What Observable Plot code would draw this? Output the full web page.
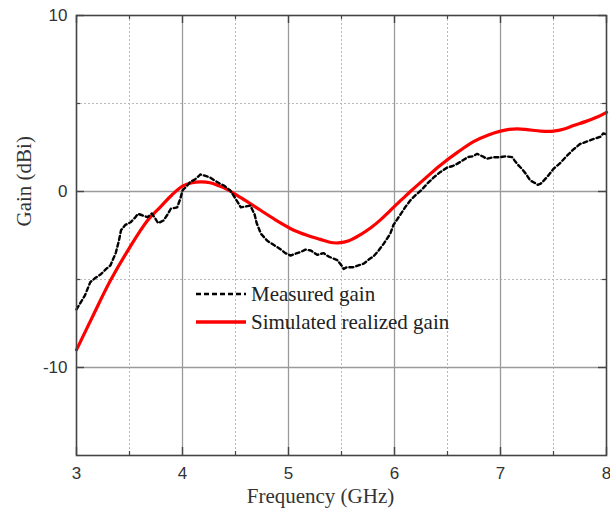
<!DOCTYPE html>
<html>
<head>
<meta charset="utf-8">
<script src="https://cdn.jsdelivr.net/npm/d3@7"></script>
<script src="https://cdn.jsdelivr.net/npm/@observablehq/plot@0.6"></script>
<style>
  html, body { margin: 0; padding: 0; background: #fff; }
  #wrap { position: relative; width: 610px; height: 519px; }
  .leg { position: absolute; left: 195px; font-family: "Liberation Serif", serif; font-size: 21px; color: #222; display: flex; align-items: center; white-space: nowrap; }
  .leg svg { margin-right: 4px; }
</style>
</head>
<body>
<div id="wrap"></div>
<script>
// ---- data ----
const simFreq = [3.0, 3.16, 3.32, 3.5, 3.67, 3.79, 3.9, 4.0, 4.08, 4.17, 4.26, 4.34, 4.42, 4.55, 4.74, 4.9, 5.05, 5.18, 5.3, 5.4, 5.47, 5.57, 5.68, 5.78, 5.87, 5.94, 5.99, 6.07, 6.15, 6.3, 6.43, 6.6, 6.75, 6.88, 7.0, 7.08, 7.16, 7.25, 7.38, 7.5, 7.6, 7.69, 7.8, 7.9, 8.0];
const simGain = [-9.0, -7.0, -5.06, -3.2, -1.65, -0.89, -0.2, 0.3, 0.48, 0.55, 0.5, 0.33, 0.12, -0.35, -1.08, -1.7, -2.2, -2.5, -2.72, -2.9, -2.92, -2.8, -2.45, -2.05, -1.6, -1.2, -0.9, -0.45, 0.0, 0.8, 1.48, 2.25, 2.85, 3.2, 3.43, 3.53, 3.56, 3.52, 3.43, 3.43, 3.55, 3.75, 3.97, 4.2, 4.5];

const measFreq = [3.00, 3.04, 3.08, 3.13, 3.18, 3.23, 3.28, 3.32, 3.37, 3.40, 3.42, 3.46, 3.51, 3.55, 3.58, 3.62, 3.67, 3.71, 3.74, 3.77, 3.82, 3.86, 3.89, 3.95, 3.98, 4.00, 4.04, 4.07, 4.12, 4.17, 4.21, 4.26, 4.31, 4.35, 4.39, 4.45, 4.50, 4.55, 4.60, 4.64, 4.68, 4.70, 4.74, 4.80, 4.87, 4.93, 4.97, 5.02, 5.06, 5.11, 5.16, 5.21, 5.27, 5.33, 5.38, 5.42, 5.46, 5.50, 5.52, 5.55, 5.61, 5.66, 5.71, 5.76, 5.80, 5.85, 5.90, 5.96, 5.99, 6.06, 6.10, 6.15, 6.20, 6.25, 6.31, 6.37, 6.43, 6.50, 6.55, 6.59, 6.64, 6.69, 6.74, 6.78, 6.83, 6.87, 6.93, 7.00, 7.05, 7.11, 7.14, 7.17, 7.20, 7.24, 7.28, 7.32, 7.35, 7.38, 7.41, 7.45, 7.50, 7.56, 7.63, 7.69, 7.75, 7.82, 7.88, 7.94, 7.97, 8.00];
const measGain = [-6.7, -6.3, -5.9, -5.15, -4.9, -4.7, -4.4, -4.2, -3.5, -2.8, -2.2, -1.9, -1.75, -1.5, -1.27, -1.35, -1.46, -1.25, -1.5, -1.8, -1.65, -1.3, -0.98, -0.9, -0.4, 0.06, 0.3, 0.53, 0.7, 0.97, 0.9, 0.8, 0.6, 0.45, 0.34, 0.06, -0.4, -0.9, -0.85, -0.8, -1.3, -1.8, -2.4, -2.8, -3.07, -3.3, -3.5, -3.64, -3.55, -3.45, -3.3, -3.35, -3.6, -3.5, -3.7, -3.8, -3.9, -4.2, -4.4, -4.3, -4.3, -4.2, -4.1, -3.85, -3.7, -3.35, -2.95, -2.4, -1.9, -1.27, -0.9, -0.5, -0.2, 0.06, 0.45, 0.8, 1.1, 1.37, 1.45, 1.57, 1.75, 1.95, 2.0, 2.14, 2.0, 1.86, 1.95, 1.95, 2.0, 1.95, 1.7, 1.48, 1.3, 1.0, 0.63, 0.5, 0.38, 0.45, 0.63, 0.9, 1.29, 1.6, 2.05, 2.4, 2.7, 2.85, 2.99, 3.1, 3.3, 3.25];

const xTicks = [3, 4, 5, 6, 7, 8];
const xMinor = [3.5, 4.5, 5.5, 6.5, 7.5];
const xGridMajor = [4, 5, 6, 7];
const yTicks = [10, 0, -10];
const yMinor = [5, -5];
const yGridMajor = [0, -10];
const seriesNames = ["Measured gain", "Simulated realized gain"];

// ---- build tables ----
const sim = simFreq.map((f, i) => ({f, g: simGain[i]}));
const meas = measFreq.map((f, i) => ({f, g: measGain[i]}));

const W = 610, H = 519, mL = 76, mR = 4, mT = 15, mB = 64;
const innerW = W - mL - mR, innerH = H - mT - mB;
const frameCol = "#444";

const chart = Plot.plot({
  width: W, height: H,
  marginLeft: mL, marginRight: mR, marginTop: mT, marginBottom: mB,
  style: {fontFamily: "'Liberation Sans', Arial, sans-serif", fontSize: "17px", color: "#333", background: "#fff"},
  x: {domain: [3, 8]},
  y: {domain: [-15, 10]},
  marks: [
    // minor dotted grid
    Plot.ruleX(xMinor, {x: d => d, stroke: "#b8b8b8", strokeWidth: 1, strokeDasharray: "2,2"}),
    Plot.ruleY(yMinor, {y: d => d, stroke: "#b8b8b8", strokeWidth: 1, strokeDasharray: "2,2"}),
    // major solid grid
    Plot.ruleX(xGridMajor, {x: d => d, stroke: "#9a9a9a", strokeWidth: 1.3}),
    Plot.ruleY(yGridMajor, {y: d => d, stroke: "#9a9a9a", strokeWidth: 1.3}),
    // data
    Plot.line(sim, {x: "f", y: "g", stroke: "#ff0000", strokeWidth: 3.2, curve: "catmull-rom"}),
    Plot.line(meas, {x: "f", y: "g", stroke: "#000", strokeWidth: 2.4, strokeDasharray: "4,3"}),
    // frame
    Plot.frame({stroke: frameCol, strokeWidth: 1.6}),
    // inward ticks
    Plot.ruleX(xTicks, {x: d => d, insetTop: innerH - 8, stroke: frameCol, strokeWidth: 1.4}),
    Plot.ruleX(xTicks, {x: d => d, insetBottom: innerH - 8, stroke: frameCol, strokeWidth: 1.4}),
    Plot.ruleX(xMinor, {x: d => d, insetTop: innerH - 4, stroke: frameCol, strokeWidth: 1.2}),
    Plot.ruleX(xMinor, {x: d => d, insetBottom: innerH - 4, stroke: frameCol, strokeWidth: 1.2}),
    Plot.ruleY(yTicks, {y: d => d, insetRight: innerW - 8, stroke: frameCol, strokeWidth: 1.4}),
    Plot.ruleY(yTicks, {y: d => d, insetLeft: innerW - 8, stroke: frameCol, strokeWidth: 1.4}),
    Plot.ruleY(yMinor, {y: d => d, insetRight: innerW - 4, stroke: frameCol, strokeWidth: 1.2}),
    Plot.ruleY(yMinor, {y: d => d, insetLeft: innerW - 4, stroke: frameCol, strokeWidth: 1.2}),
    // axes labels
    Plot.axisX({ticks: xTicks, tickSize: 0, tickPadding: 11, tickFormat: d => String(d), label: null, fill: "#333"}),
    Plot.axisY({ticks: yTicks, tickSize: 0, tickPadding: 9, tickFormat: d => String(d), label: null, fill: "#333"}),
    // titles
    Plot.text(["Frequency (GHz)"], {frameAnchor: "bottom", text: d => d, dx: -21, dy: 47, fontFamily: "'Liberation Serif', 'Times New Roman', serif", fontSize: 21, fill: "#333"}),
    Plot.text(["Gain (dBi)"], {frameAnchor: "left", text: d => d, rotate: -90, dx: -52, dy: -9, fontFamily: "'Liberation Serif', 'Times New Roman', serif", fontSize: 21, fill: "#333"})
  ]
});

const wrap = document.getElementById("wrap");
wrap.appendChild(chart);

// legend (HTML overlay)
const legendItems = [
  {name: seriesNames[0], stroke: "#000", width: 2.6, dash: "5,3", top: 281},
  {name: seriesNames[1], stroke: "#ff0000", width: 3.6, dash: null, top: 309}
];
for (const it of legendItems) {
  const div = document.createElement("div");
  div.className = "leg";
  div.style.top = it.top + "px";
  div.innerHTML = `<svg width="52" height="26"><line x1="1" x2="51" y1="13" y2="13" stroke="${it.stroke}" stroke-width="${it.width}" ${it.dash ? `stroke-dasharray="${it.dash}"` : ""}/></svg><span>${it.name}</span>`;
  wrap.appendChild(div);
}
</script>
</body>
</html>
